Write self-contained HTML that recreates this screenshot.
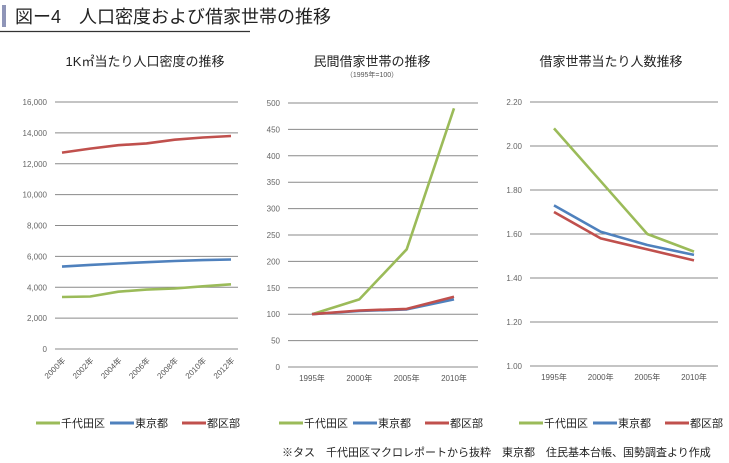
<!DOCTYPE html>
<html><head><meta charset="utf-8">
<style>
body{margin:0;background:#fff;width:729px;height:463px;overflow:hidden;font-family:"Liberation Sans","Noto Sans CJK JP",sans-serif;}
svg{position:absolute;left:0;top:0}
</style></head><body>
<svg id="c" width="729" height="463">
<rect x="2" y="5" width="4" height="22" fill="#8f95b8"/>
<text x="15" y="23" font-size="18" fill="#222" font-family="Liberation Sans, Noto Sans CJK JP, sans-serif">図ー4　人口密度および借家世帯の推移</text>
<line x1="0" y1="31.5" x2="250" y2="31.5" stroke="#333" stroke-width="1.2"/>
<text x="282" y="456" font-size="11" fill="#222" font-family="Liberation Sans, Noto Sans CJK JP, sans-serif">※タス　千代田区マクロレポートから抜粋　東京都　住民基本台帳、国勢調査より作成</text>
</svg>
<script>
const seriesNames=["千代田区","東京都","都区部"];
const colors=["#9bbb59","#4f81bd","#c0504d"];
// chart 1
const c1Cats=["2000年","2002年","2004年","2006年","2008年","2010年","2012年"];
const c1Chiyoda=[3370,3400,3710,3850,3920,4060,4190];
const c1Tokyo=[5340,5450,5540,5620,5700,5760,5800];
const c1Ku=[12720,12980,13200,13320,13560,13700,13800];
const c1Ticks=["0","2,000","4,000","6,000","8,000","10,000","12,000","14,000","16,000"];
// chart 2
const c2Cats=["1995年","2000年","2005年","2010年"];
const c2Chiyoda=[100,128,223,490];
const c2Tokyo=[100,106,109,128];
const c2Ku=[100,107,110,133];
const c2Ticks=["0","50","100","150","200","250","300","350","400","450","500"];
// chart 3
const c3Cats=["1995年","2000年","2005年","2010年"];
const c3Chiyoda=[2.08,1.84,1.60,1.52];
const c3Tokyo=[1.73,1.61,1.55,1.505];
const c3Ku=[1.70,1.58,1.53,1.48];
const c3Ticks=["1.00","1.20","1.40","1.60","1.80","2.00","2.20"];

const svg=document.getElementById('c');
const NS="http://www.w3.org/2000/svg";
function mk(tag,attrs,txt){const e=document.createElementNS(NS,tag);for(const k in attrs)e.setAttribute(k,attrs[k]);if(txt!=null)e.textContent=txt;svg.appendChild(e);return e;}
const FF="Liberation Sans, Noto Sans CJK JP, sans-serif";

function chart(o){
  const {name,title,sub,titleX,gx0,gx1,yTop,yBot,min,max,ticks,cats,px0,px1,series,rot,legX}=o;
  const ys=v=>yBot-(v-min)/(max-min)*(yBot-yTop);
  const xs=i=>px0+i*(px1-px0)/(cats.length-1);
  let t=mk('text',{x:titleX,y:66,'font-size':13,'text-anchor':'middle',fill:'#222','font-family':FF},title);
  
  
  if(sub){let s=mk('text',{x:titleX,y:77,'font-size':7,'text-anchor':'middle',fill:'#555','font-family':FF},sub);
    
    }
  ticks.forEach((lb,i)=>{
    const v=min+i*(max-min)/(ticks.length-1);const y=ys(v);
    let g=mk('line',{x1:gx0,x2:gx1,y1:y,y2:y,stroke:'#8a8a8a','stroke-width':1});
    
    
    let l=mk('text',{x:gx0-8,y:y+3,'font-size':8,'text-anchor':'end',fill:'#666','font-family':FF},lb);
    
    
  });
  cats.forEach((c,i)=>{
    let l;
    if(rot){l=mk('text',{x:xs(i)+4,y:yBot+12,'font-size':8,'text-anchor':'end',fill:'#555','font-family':FF,transform:`rotate(-45 ${xs(i)+4} ${yBot+12})`},c);}
    else{l=mk('text',{x:xs(i),y:yBot+14,'font-size':8,'text-anchor':'middle',fill:'#555','font-family':FF},c);}
    
    
  });
  series.forEach((vals,k)=>{
    const d=vals.map((v,i)=>(i?'L':'M')+xs(i).toFixed(1)+' '+ys(v).toFixed(1)).join(' ');
    let p=mk('path',{d:d,fill:'none',stroke:colors[k],'stroke-width':2.6,'stroke-linejoin':'round'});
    
    
  });
  const offs=[0,74,146];
  seriesNames.forEach((n,k)=>{
    const x=legX+offs[k];
    let ln=mk('line',{x1:x,x2:x+24,y1:423,y2:423,stroke:colors[k],'stroke-width':3});
    
    
    let tx=mk('text',{x:x+25,y:427,'font-size':11,fill:'#222','font-family':FF},n);
    
    
  });
}
chart({name:'density-chart',title:'1K㎡当たり人口密度の推移',titleX:145,gx0:55,gx1:238,yTop:102,yBot:349,min:0,max:16000,ticks:c1Ticks,cats:c1Cats,px0:62,px1:231,series:[c1Chiyoda,c1Tokyo,c1Ku],rot:true,legX:36});
chart({name:'rental-chart',title:'民間借家世帯の推移',sub:'（1995年=100）',titleX:372,gx0:288,gx1:478,yTop:103,yBot:367,min:0,max:500,ticks:c2Ticks,cats:c2Cats,px0:312,px1:454,series:[c2Chiyoda,c2Tokyo,c2Ku],rot:false,legX:279});
chart({name:'persons-chart',title:'借家世帯当たり人数推移',titleX:611,gx0:530,gx1:718,yTop:102,yBot:366,min:1,max:2.2,ticks:c3Ticks,cats:c3Cats,px0:554,px1:694,series:[c3Chiyoda,c3Tokyo,c3Ku],rot:false,legX:519});
</script>
</body></html>
